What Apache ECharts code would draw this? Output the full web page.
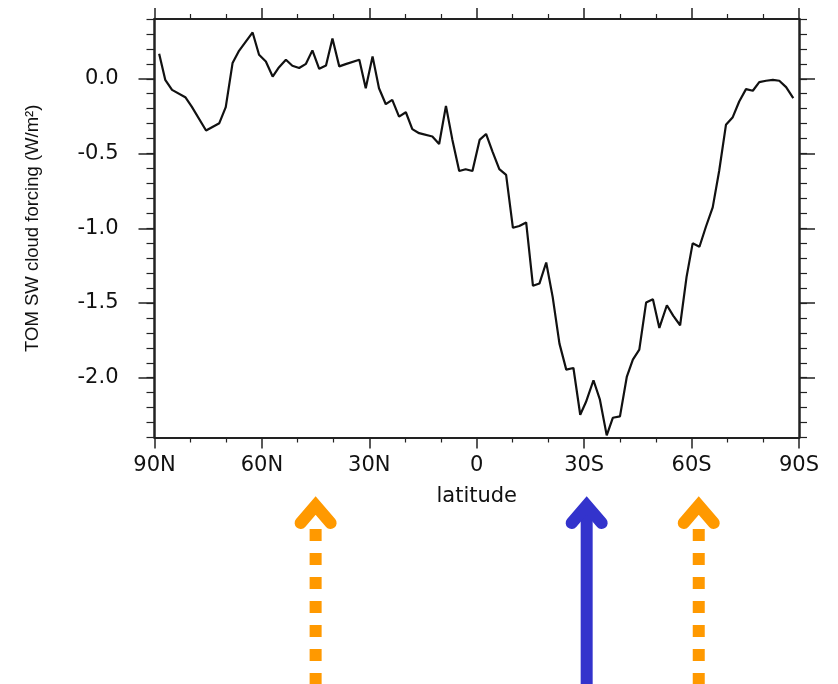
<!DOCTYPE html>
<html><head><meta charset="utf-8">
<script src="https://cdn.jsdelivr.net/npm/echarts@6.0.0/dist/echarts.min.js"></script>
<style>html,body{margin:0;padding:0;background:#fff}#c{width:838px;height:684px}</style>
</head><body><div id="c"></div><script>
// latitude in degrees (positive = north)
const latitudes = [88.7, 87.0, 85.1, 81.4, 79.6, 75.6, 71.9, 70.1, 68.2, 66.5, 62.6, 60.8, 58.9, 57.0, 55.4, 53.3, 51.5, 49.6, 47.7, 45.9, 44.0, 42.1, 40.3, 38.4, 36.6, 32.8, 31.0, 29.1, 27.3, 25.4, 23.6, 21.7, 19.8, 18.0, 16.1, 12.4, 10.5, 8.6, 6.8, 4.9, 3.1, 1.2, -0.8, -2.6, -4.4, -6.3, -8.2, -10.1, -11.9, -13.8, -15.7, -17.5, -19.4, -21.2, -23.1, -25.0, -27.0, -28.9, -30.5, -32.6, -34.4, -36.3, -38.0, -40.0, -41.9, -43.6, -45.4, -47.3, -49.2, -51.0, -53.1, -54.9, -56.8, -58.6, -60.3, -62.2, -64.0, -65.9, -67.7, -69.6, -71.5, -73.3, -75.2, -77.1, -78.9, -80.8, -82.7, -84.5, -86.4, -88.4];
// TOM SW cloud forcing (W/m2)
const forcing = [0.168, -0.007, -0.074, -0.123, -0.186, -0.346, -0.297, -0.19, 0.105, 0.183, 0.31, 0.161, 0.116, 0.015, 0.072, 0.127, 0.087, 0.072, 0.10, 0.19, 0.067, 0.089, 0.27, 0.083, 0.098, 0.127, -0.063, 0.15, -0.063, -0.17, -0.141, -0.253, -0.224, -0.337, -0.364, -0.386, -0.436, -0.181, -0.409, -0.617, -0.605, -0.617, -0.409, -0.369, -0.487, -0.605, -0.643, -0.997, -0.985, -0.961, -1.385, -1.37, -1.229, -1.459, -1.772, -1.946, -1.935, -2.248, -2.163, -2.017, -2.147, -2.386, -2.268, -2.259, -1.995, -1.879, -1.812, -1.497, -1.475, -1.667, -1.515, -1.586, -1.649, -1.325, -1.101, -1.124, -0.99, -0.86, -0.617, -0.308, -0.257, -0.152, -0.069, -0.080, -0.022, -0.013, -0.007, -0.013, -0.056, -0.13];
const yMajorTicks = [0.0, -0.5, -1.0, -1.5, -2.0];
const yRange = [-2.4, 0.4];
const xRange = [-90, 90];
const arrowLats = [45, -30.7, -62];
const arrowColors = ['#FF9900', '#3333CC', '#FF9900'];
const arrowDotted = [true, false, true];

const chart = echarts.init(document.getElementById('c'), null, {renderer: 'canvas'});
const latFmt = v => v > 0 ? v + 'N' : (v < 0 ? (-v) + 'S' : '0');
const axisColor = '#222';
const labelFont = {color: '#111', fontSize: 21, fontFamily: 'DejaVu Sans'};

function xAx(pos, show) {
  return {
    type: 'value', position: pos, min: xRange[0], max: xRange[1], interval: 30, inverse: true,
    axisLine: {show: true, onZero: false, lineStyle: {color: axisColor, width: 2}},
    axisTick: {show: true, inside: false, length: 11, lineStyle: {color: axisColor, width: 1.5}},
    minorTick: {show: true, splitNumber: 3, length: 5, lineStyle: {color: axisColor, width: 1.2}},
    axisLabel: Object.assign({show: show, margin: 18, formatter: latFmt}, labelFont),
    splitLine: {show: false},
    name: show ? 'latitude' : '', nameLocation: 'middle', nameGap: 49,
    nameTextStyle: {color: '#111', fontSize: 21, fontFamily: 'DejaVu Sans'}
  };
}
function yMajor(pos, show) {
  return {
    type: 'value', position: pos, min: yRange[0], max: yRange[1], interval: 0.1,
    axisLine: {show: true, onZero: false, lineStyle: {color: axisColor, width: 2.5}},
    axisTick: {show: true, inside: false, length: 16, customValues: yMajorTicks, lineStyle: {color: axisColor, width: 1.5}},
    axisLabel: Object.assign({show: show, margin: 36, customValues: yMajorTicks, formatter: v => v.toFixed(1)}, labelFont),
    splitLine: {show: false},
    name: show ? 'TOM SW cloud forcing (W/m²)' : '', nameLocation: 'middle', nameRotate: 90, nameGap: 112,
    nameTextStyle: {color: '#111', fontSize: 18.5, fontFamily: 'Liberation Sans'}
  };
}
function yMinor(pos) {
  return {
    type: 'value', position: pos, offset: 0, min: yRange[0], max: yRange[1], interval: 0.1,
    axisLine: {show: false, onZero: false},
    axisTick: {show: true, inside: false, length: 8, lineStyle: {color: axisColor, width: 1.2}},
    axisLabel: {show: false}, splitLine: {show: false}
  };
}

const option = {
  backgroundColor: '#fff',
  animation: false,
  grid: {left: 154.5, right: 39, top: 19, bottom: 246.5, containLabel: false},
  xAxis: [xAx('bottom', true), xAx('top', false)],
  yAxis: [yMajor('left', true), yMinor('left'), yMajor('right', false), yMinor('right')],
  series: [{
    type: 'line', xAxisIndex: 0, yAxisIndex: 0,
    data: latitudes.map((la, i) => [la, forcing[i]]),
    showSymbol: false, symbol: 'none',
    lineStyle: {color: '#111', width: 2.2},
    clip: true
  }]
};
chart.setOption(option);

const gfx = [];
arrowLats.forEach((lat, i) => {
  const x = chart.convertToPixel({xAxisIndex: 0}, lat);
  const c = arrowColors[i];
  gfx.push({type: 'line', silent: true,
    shape: {x1: x, y1: arrowDotted[i] ? 529 : 512, x2: x, y2: 700},
    style: {stroke: c, lineWidth: 12, lineDash: arrowDotted[i] ? [12, 12] : null, lineCap: 'butt'}});
  gfx.push({type: 'polyline', silent: true,
    shape: {points: [[x - 15, 523], [x, 505.5], [x + 15, 523]]},
    style: {stroke: c, fill: 'none', lineWidth: 12, lineCap: 'round', lineJoin: 'miter'}});
});
chart.setOption({graphic: gfx});
</script></body></html>
